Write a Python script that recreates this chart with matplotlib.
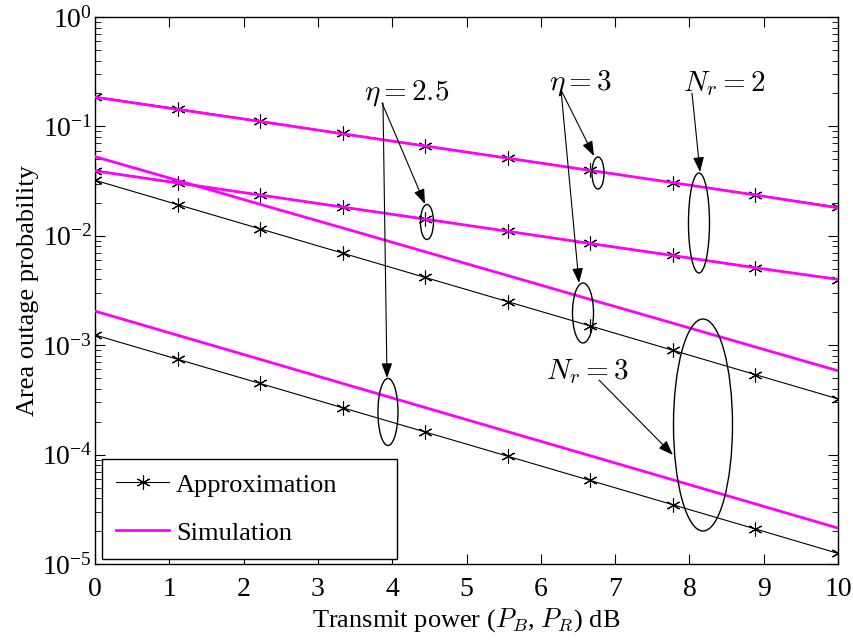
import numpy as np
import matplotlib
matplotlib.use("Agg")
import matplotlib.pyplot as plt
from matplotlib.patches import Ellipse, FancyArrowPatch

plt.rcParams['font.family'] = 'serif'
plt.rcParams['font.serif'] = ['Liberation Serif', 'DejaVu Serif']
plt.rcParams['mathtext.fontset'] = 'cm'

# transmit power (dB), sample points of the curves
power_db = np.linspace(0, 10, 10)

# Nr = 2, eta = 3
approx_nr2_eta3 = [0.187, 0.145, 0.112, 0.0862, 0.0666, 0.0515, 0.0397, 0.0307, 0.0237, 0.0183]
sim_nr2_eta3 = [0.185, 0.143, 0.111, 0.0855, 0.0662, 0.0512, 0.0396, 0.0306, 0.0236, 0.0180]
# Nr = 2, eta = 2.5
approx_nr2_eta25 = [0.0395, 0.0306, 0.0237, 0.0184, 0.0143, 0.0110, 0.00855, 0.00663, 0.00513, 0.00398]
sim_nr2_eta25 = [0.0392, 0.0304, 0.0236, 0.0183, 0.0142, 0.0110, 0.0085, 0.0066, 0.0051, 0.00400]
# Nr = 3, eta = 3
approx_nr3_eta3 = [0.0322, 0.0193, 0.01158, 0.00694, 0.00416, 0.00250, 0.00150, 0.000898, 0.000538, 0.000323]
sim_nr3_eta3 = [0.0529, 0.0321, 0.0194, 0.0118, 0.00714, 0.00433, 0.00262, 0.00159, 0.000963, 0.000584]
# Nr = 3, eta = 2.5
approx_nr3_eta25 = [1.24e-3, 7.44e-4, 4.47e-4, 2.68e-4, 1.61e-4, 9.66e-5, 5.80e-5, 3.48e-5, 2.09e-5, 1.25e-5]
sim_nr3_eta25 = [2.05e-3, 1.234e-3, 7.43e-4, 4.47e-4, 2.69e-4, 1.62e-4, 9.76e-5, 5.88e-5, 3.54e-5, 2.13e-5]

approx_curves = [approx_nr2_eta3, approx_nr2_eta25, approx_nr3_eta3, approx_nr3_eta25]
sim_curves = [sim_nr2_eta3, sim_nr2_eta25, sim_nr3_eta3, sim_nr3_eta25]

fig = plt.figure(figsize=(8.54, 6.41), dpi=100)
ax = fig.add_axes([95/854, 1-564/641, 743/854, 547/641])

star = (6, 2, 0)
for i, y in enumerate(approx_curves):
    ax.semilogy(power_db, y, color='black', lw=0.8, marker=star, ms=10, mew=0.8,
                label='Approximation' if i == 0 else None, zorder=2)
for i, y in enumerate(sim_curves):
    ax.semilogy(power_db, y, color='#ff00ff', lw=2.0,
                label='Simulation' if i == 0 else None, zorder=3)

ax.set_xlim(0, 10)
ax.set_ylim(1e-5, 1)
ax.set_xticks(range(0, 11))
ax.tick_params(which='both', direction='in', top=True, right=True, labelsize=20)
ax.tick_params(which='major', length=7, width=0.8)
ax.tick_params(which='minor', length=4, width=0.6)
ax.tick_params(axis='x', which='major', pad=9)
ax.tick_params(axis='y', which='major', pad=2)
ax.tick_params(axis='x', which='minor', bottom=False, top=False)
for s in ax.spines.values():
    s.set_linewidth(1.0)

ax.set_xlabel('Transmit power ($P_B$, $P_R$) dB', fontsize=19, labelpad=3)
ax.set_ylabel('Area outage probability', fontsize=19, labelpad=2)

leg = ax.legend(loc='lower left', bbox_to_anchor=(0.0094, 0.009, 0.397, 0.19),
                mode='expand', fontsize=19, frameon=True, fancybox=False,
                edgecolor='black', framealpha=1, handlelength=2.0, handletextpad=0.25,
                labelspacing=0.93, borderpad=0.55, borderaxespad=0)
leg.get_frame().set_linewidth(1.0)
leg.set_zorder(6)

# annotations in axes fraction
T = ax.transAxes
ellipses = [(0.4468, 0.6252, 0.0175, 0.064),
            (0.677, 0.7148, 0.0162, 0.0585),
            (0.8129, 0.6234, 0.0283, 0.1828),
            (0.6568, 0.4589, 0.0283, 0.1097),
            (0.3943, 0.2779, 0.027, 0.1225),
            (0.8183, 0.2541, 0.0794, 0.3876)]
for cx, cy, w, h in ellipses:
    ax.add_patch(Ellipse((cx, cy), w, h, transform=T, fill=False, ec='black', lw=1.0, zorder=4))

ax.text(0.4199, 0.861, r'$\eta = 2.5$', transform=T, fontsize=21, ha='center', va='center')
ax.text(0.6528, 0.8793, r'$\eta = 3$', transform=T, fontsize=21, ha='center', va='center')
ax.text(0.8466, 0.8793, r'$N_r = 2$', transform=T, fontsize=21, ha='center', va='center')
ax.text(0.6622, 0.351, r'$N_r = 3$', transform=T, fontsize=21, ha='center', va='center')

arrows = [((0.3863, 0.8428), (0.4441, 0.6581)),
          ((0.3876, 0.8428), (0.393, 0.34)),
          ((0.6272, 0.8665), (0.6716, 0.7459)),
          ((0.6272, 0.8665), (0.6514, 0.5137)),
          ((0.8035, 0.861), (0.8143, 0.7166)),
          ((0.6783, 0.3364), (0.7779, 0.1993))]
for a, b in arrows:
    ax.add_patch(FancyArrowPatch(a, b, transform=T, arrowstyle='-|>,head_length=0.6,head_width=0.22',
                                 mutation_scale=15, lw=0.8, color='black',
                                 shrinkA=0, shrinkB=0, zorder=5))

fig.savefig('out.png', dpi=100)
